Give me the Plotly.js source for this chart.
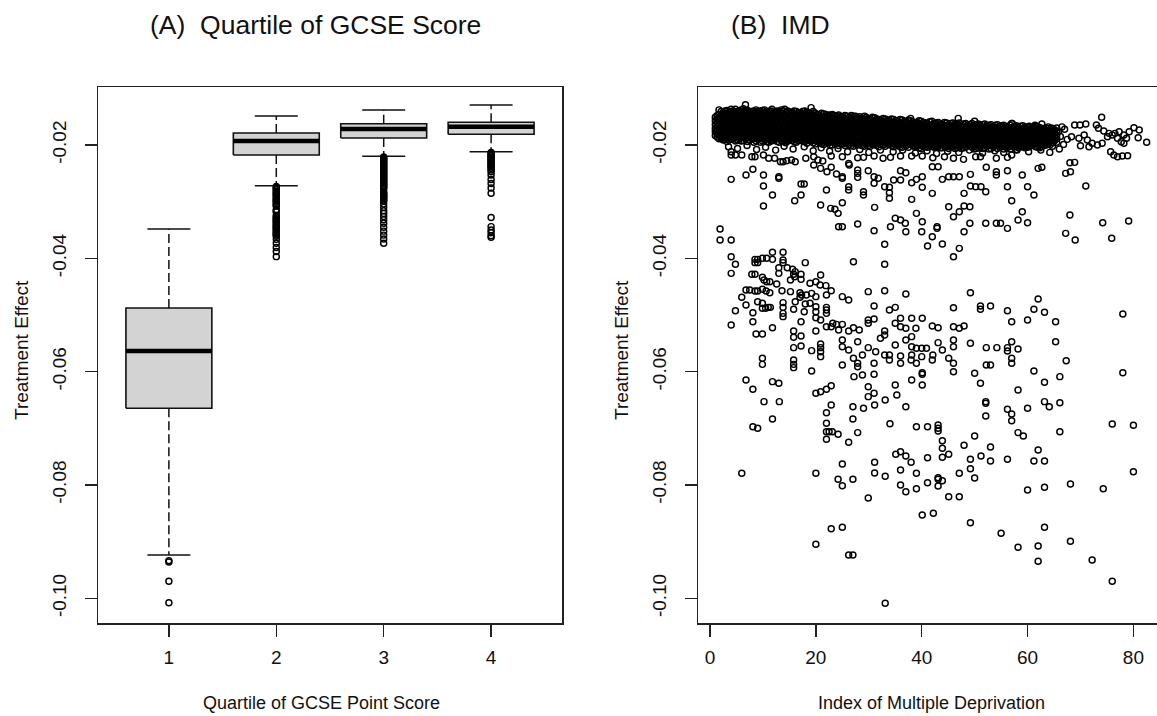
<!DOCTYPE html>
<html>
<head>
<meta charset="utf-8">
<script src="https://cdn.plot.ly/plotly-3.0.1.min.js"></script>
<style>
  html, body { margin: 0; padding: 0; background: #fff; overflow: hidden; }
  #chart { width: 1180px; height: 716px; }
</style>
</head>
<body>
<div id="chart"></div>
<script>
// ---- Panel A: treatment effect by quartile of GCSE point score ----
const quartiles = [1, 2, 3, 4];
const quartileLabels = ['1', '2', '3', '4'];
const lowerWhisker = [-0.09235, -0.02718, -0.02199, -0.02118];
const lowerQuartile = [-0.06647, -0.02176, -0.01876, -0.01811];
const medianEffect = [-0.05635, -0.01929, -0.01718, -0.01677];
const upperQuartile = [-0.04877, -0.01788, -0.01624, -0.01599];
const upperWhisker = [-0.03482, -0.01488, -0.01382, -0.01294];

const outliersQ1 = [-0.09335, -0.0936, -0.0970, -0.1008];
const outliersQ2 = [-0.0273, -0.0275, -0.0277, -0.0279, -0.0282, -0.0284, -0.0286, -0.0288,
  -0.0290, -0.0293, -0.0295, -0.0297, -0.0299, -0.0301, -0.0304, -0.0306, -0.03075,
  -0.0314, -0.0316, -0.0318, -0.03245, -0.0327, -0.0329, -0.0331, -0.0333, -0.0335,
  -0.0337, -0.0340, -0.0342, -0.0344, -0.0346, -0.0348, -0.0350, -0.0353, -0.0355,
  -0.0357, -0.0359, -0.0361, -0.03665, -0.03735, -0.0381, -0.0388, -0.0397];
const outliersQ3 = [-0.0221, -0.0223, -0.0225, -0.0227, -0.0229, -0.0231, -0.0233, -0.0235,
  -0.0237, -0.0239, -0.0241, -0.0243, -0.0245, -0.0247, -0.0249, -0.0251, -0.0253,
  -0.0255, -0.0257, -0.0259, -0.0261, -0.0263, -0.0265, -0.0267, -0.0269, -0.0271,
  -0.0273, -0.0275, -0.0277, -0.0283, -0.0285, -0.0287, -0.0289, -0.0291, -0.0293,
  -0.0295, -0.0297, -0.0299, -0.0304, -0.0310, -0.0316, -0.0321, -0.0326, -0.0332,
  -0.0338, -0.0345, -0.0352, -0.0359, -0.0366, -0.03735];
const outliersQ4 = [-0.0213, -0.0215, -0.0217, -0.0219, -0.0221, -0.0223, -0.0225, -0.0227,
  -0.0229, -0.0231, -0.0233, -0.0235, -0.0237, -0.0239, -0.0241, -0.0244, -0.0247,
  -0.0253, -0.0261, -0.0268, -0.0276, -0.0285, -0.0328, -0.0344, -0.0350, -0.0355,
  -0.0360, -0.0363];

// ---- Panel B: treatment effect against Index of Multiple Deprivation ----
// Areas sharing (almost) the same IMD score: [imd, [effects...]]
const effectsAtImd = [
  [1.0, [-0.0151, -0.0157, -0.0164, -0.0171, -0.0176, -0.0183]],
  [1.35, [-0.0148, -0.0154, -0.0161, -0.0167, -0.0174, -0.0180, -0.0186]],
  [1.7, [-0.0138, -0.0146, -0.0153, -0.0158, -0.0165, -0.0171, -0.0177, -0.0182, -0.0189]],
  [2.1, [-0.0141, -0.0147, -0.0152, -0.0159, -0.0164, -0.0170, -0.0176, -0.0183, -0.0188]],
  [2.5, [-0.0142, -0.0148, -0.0155, -0.0160, -0.0166, -0.0173, -0.0178, -0.0185, -0.0191]],
  [2.85, [-0.0140, -0.0146, -0.0153, -0.0159, -0.0165, -0.0171, -0.0177, -0.0184, -0.0190]],
  [3.2, [-0.0139, -0.0145, -0.0150, -0.0158, -0.0163, -0.0169, -0.0176, -0.0181, -0.0188, -0.0194]],
  [3.6, [-0.0142, -0.0148, -0.0154, -0.0161, -0.0166, -0.0172, -0.0179, -0.0185, -0.0191]],
  [3.8, [-0.0147]],
  [4.0, [-0.0137, -0.0141, -0.0148, -0.0154, -0.0159, -0.0166, -0.0171, -0.0178, -0.0183, -0.0190]],
  [4.4, [-0.0140, -0.0146, -0.0152, -0.0158, -0.0165, -0.0171, -0.0176, -0.0183, -0.0189]],
  [4.8, [-0.0137, -0.0143, -0.0150, -0.0156, -0.0162, -0.0168, -0.0174, -0.0180, -0.0186, -0.0193]],
  [5.15, [-0.0141, -0.0147, -0.0153, -0.0160, -0.0166, -0.0172, -0.0178, -0.0184, -0.0191]],
  [5.5, [-0.0140, -0.0146, -0.0151, -0.0157, -0.0164, -0.0170, -0.0176, -0.0182, -0.0189]],
  [5.9, [-0.0138, -0.0144, -0.0150, -0.0156, -0.0162, -0.0168, -0.0175, -0.0181, -0.0187, -0.0193]],
  [6.3, [-0.0136, -0.0142, -0.0148, -0.0155, -0.0161, -0.0166, -0.0173, -0.0179, -0.0185, -0.0192]],
  [6.7, [-0.0129, -0.0139, -0.0145, -0.0152, -0.0158, -0.0164, -0.0170, -0.0176, -0.0182, -0.0189]],
  [7.1, [-0.0139, -0.0145, -0.0150, -0.0157, -0.0163, -0.0169, -0.0174, -0.0181, -0.0187, -0.0194]],
  [7.5, [-0.0142, -0.0148, -0.0154, -0.0160, -0.0167, -0.0173, -0.0179, -0.0185, -0.0191]],
  [7.9, [-0.0141, -0.0147, -0.0153, -0.0158, -0.0165, -0.0171, -0.0177, -0.0183, -0.0189]],
  [8.3, [-0.0140, -0.0146, -0.0152, -0.0158, -0.0164, -0.0170, -0.0176, -0.0183, -0.0189, -0.0195]],
  [8.7, [-0.0138, -0.0144, -0.0151, -0.0156, -0.0162, -0.0168, -0.0175, -0.0180, -0.0186, -0.0193]],
  [9.1, [-0.0141, -0.0148, -0.0154, -0.0160, -0.0166, -0.0172, -0.0178, -0.0184, -0.0190]],
  [9.5, [-0.0140, -0.0146, -0.0152, -0.0159, -0.0164, -0.0170, -0.0176, -0.0182, -0.0188, -0.0195]],
  [9.9, [-0.0139, -0.0145, -0.0151, -0.0157, -0.0163, -0.0169, -0.0175, -0.0182, -0.0188, -0.0193]],
  [10.3, [-0.0138, -0.0143, -0.0149, -0.0155, -0.0161, -0.0167, -0.0173, -0.0179, -0.0185, -0.0191]],
  [10.7, [-0.0141, -0.0146, -0.0152, -0.0158, -0.0164, -0.0171, -0.0177, -0.0183, -0.0189, -0.0194]],
  [11.1, [-0.0141, -0.0147, -0.0153, -0.0159, -0.0165, -0.0170, -0.0177, -0.0183, -0.0189, -0.0195]],
  [11.5, [-0.0140, -0.0145, -0.0151, -0.0157, -0.0163, -0.0169, -0.0175, -0.0181, -0.0187, -0.0193]],
  [11.7, [-0.0137]],
  [11.9, [-0.0144, -0.0150, -0.0156, -0.0162, -0.0168, -0.0174, -0.0180, -0.0187, -0.0192]],
  [12.3, [-0.0142, -0.0148, -0.0154, -0.0160, -0.0166, -0.0172, -0.0178, -0.0184, -0.0190]],
  [12.7, [-0.0140, -0.0145, -0.0152, -0.0158, -0.0163, -0.0170, -0.0176, -0.0181, -0.0188, -0.0194]],
  [13.1, [-0.0141, -0.0147, -0.0153, -0.0159, -0.0165, -0.0171, -0.0177, -0.0183, -0.0189, -0.0195]],
  [13.5, [-0.0138, -0.0144, -0.0150, -0.0156, -0.0162, -0.0168, -0.0175, -0.0181, -0.0186, -0.0192]],
  [13.9, [-0.0140, -0.0146, -0.0152, -0.0158, -0.0164, -0.0170, -0.0176, -0.0182, -0.0188, -0.0194]],
  [14.1, [-0.0137]],
  [14.3, [-0.0143, -0.0149, -0.0155, -0.0161, -0.0167, -0.0173, -0.0179, -0.0185, -0.0191, -0.0196]],
  [14.7, [-0.0140, -0.0146, -0.0152, -0.0158, -0.0164, -0.0170, -0.0176, -0.0182, -0.0188, -0.0193]],
  [15.1, [-0.0142, -0.0148, -0.0154, -0.0160, -0.0166, -0.0172, -0.0178, -0.0184, -0.0190]],
  [15.5, [-0.0143, -0.0149, -0.0155, -0.0161, -0.0167, -0.0173, -0.0179, -0.0186, -0.0192]],
  [15.9, [-0.0140, -0.0145, -0.0151, -0.0157, -0.0163, -0.0169, -0.0175, -0.0181, -0.0187, -0.0194]],
  [16.3, [-0.0141, -0.0147, -0.0153, -0.0158, -0.0164, -0.0170, -0.0176, -0.0182, -0.0188, -0.0195]],
  [16.7, [-0.0143, -0.0149, -0.0155, -0.0161, -0.0167, -0.0173, -0.0179, -0.0185, -0.0192]],
  [17.1, [-0.0144, -0.0149, -0.0155, -0.0161, -0.0167, -0.0173, -0.0179, -0.0185, -0.0191]],
  [17.5, [-0.0141, -0.0146, -0.0152, -0.0158, -0.0164, -0.0170, -0.0176, -0.0182, -0.0188, -0.0193]],
  [17.9, [-0.0140, -0.0145, -0.0151, -0.0157, -0.0163, -0.0169, -0.0175, -0.0181, -0.0187, -0.0194]],
  [18.3, [-0.0142, -0.0148, -0.0154, -0.0160, -0.0166, -0.0172, -0.0178, -0.0184, -0.0190, -0.0197]],
  [18.7, [-0.0144, -0.0150, -0.0156, -0.0162, -0.0168, -0.0174, -0.0180, -0.0186, -0.0192]],
  [19.1, [-0.0134, -0.0145, -0.0151, -0.0157, -0.0163, -0.0169, -0.0175, -0.0181, -0.0187, -0.0193]],
  [19.5, [-0.0141, -0.0147, -0.0153, -0.0159, -0.0165, -0.0171, -0.0178, -0.0184, -0.0190, -0.0196]],
  [19.9, [-0.0144, -0.0150, -0.0155, -0.0162, -0.0167, -0.0173, -0.0180, -0.0185, -0.0192, -0.0198]],
  [20.3, [-0.0146, -0.0152, -0.0158, -0.0164, -0.0170, -0.0176, -0.0182, -0.0188, -0.0194]],
  [20.7, [-0.0147, -0.0153, -0.0159, -0.0165, -0.0171, -0.0177, -0.0183, -0.0189, -0.0195]],
  [21.1, [-0.0144, -0.0150, -0.0156, -0.0162, -0.0168, -0.0174, -0.0180, -0.0186, -0.0192, -0.0198]],
  [21.5, [-0.0145, -0.0151, -0.0156, -0.0163, -0.0168, -0.0175, -0.0180, -0.0187, -0.0193, -0.0199]],
  [21.9, [-0.0146, -0.0152, -0.0158, -0.0164, -0.0170, -0.0176, -0.0182, -0.0188, -0.0194]],
  [22.3, [-0.0148, -0.0154, -0.0160, -0.0166, -0.0172, -0.0178, -0.0184, -0.0190, -0.0196]],
  [22.7, [-0.0147, -0.0153, -0.0159, -0.0165, -0.0171, -0.0177, -0.0183, -0.0189, -0.0195, -0.0200]],
  [23.1, [-0.0146, -0.0152, -0.0158, -0.0164, -0.0170, -0.0176, -0.0182, -0.0188, -0.0194, -0.0200]],
  [23.5, [-0.0148, -0.0154, -0.0160, -0.0166, -0.0172, -0.0178, -0.0184, -0.0190, -0.0196]],
  [23.9, [-0.0149, -0.0155, -0.0161, -0.0167, -0.0173, -0.0179, -0.0185, -0.0191, -0.0197]],
  [24.3, [-0.0147, -0.0153, -0.0159, -0.0165, -0.0171, -0.0177, -0.0183, -0.0189, -0.0195, -0.0201]],
  [24.7, [-0.0150, -0.0156, -0.0162, -0.0168, -0.0174, -0.0180, -0.0186, -0.0192, -0.0198]],
  [25.1, [-0.0150, -0.0156, -0.0162, -0.0168, -0.0174, -0.0180, -0.0186, -0.0192, -0.0198]],
  [25.5, [-0.0148, -0.0153, -0.0159, -0.0165, -0.0171, -0.0177, -0.0183, -0.0189, -0.0195, -0.0201]],
  [25.9, [-0.0149, -0.0155, -0.0161, -0.0167, -0.0173, -0.0179, -0.0185, -0.0191, -0.0197]],
  [26.3, [-0.0151, -0.0157, -0.0163, -0.0169, -0.0175, -0.0181, -0.0187, -0.0193, -0.0199]],
  [26.7, [-0.0148, -0.0154, -0.0160, -0.0166, -0.0172, -0.0178, -0.0184, -0.0190, -0.0196, -0.0201]],
  [27.1, [-0.0149, -0.0154, -0.0160, -0.0166, -0.0172, -0.0178, -0.0184, -0.0190, -0.0196, -0.0202]],
  [27.5, [-0.0149, -0.0155, -0.0161, -0.0167, -0.0173, -0.0179, -0.0185, -0.0191, -0.0197]],
  [27.9, [-0.0152, -0.0158, -0.0164, -0.0170, -0.0176, -0.0182, -0.0188, -0.0194, -0.0200]],
  [28.3, [-0.0150, -0.0156, -0.0162, -0.0168, -0.0174, -0.0180, -0.0186, -0.0192, -0.0198]],
  [28.7, [-0.0153, -0.0159, -0.0165, -0.0171, -0.0177, -0.0183, -0.0189, -0.0195, -0.0201]],
  [29.1, [-0.0154, -0.0160, -0.0166, -0.0172, -0.0178, -0.0184, -0.0190, -0.0196, -0.0202]],
  [29.5, [-0.0151, -0.0156, -0.0162, -0.0168, -0.0174, -0.0180, -0.0186, -0.0192, -0.0198]],
  [29.9, [-0.0153, -0.0159, -0.0165, -0.0171, -0.0177, -0.0183, -0.0189, -0.0195, -0.0201]],
  [30.3, [-0.0154, -0.0160, -0.0166, -0.0172, -0.0178, -0.0184, -0.0190, -0.0196, -0.0202]],
  [30.7, [-0.0151, -0.0157, -0.0163, -0.0169, -0.0175, -0.0181, -0.0187, -0.0193, -0.0199]],
  [31.1, [-0.0152, -0.0157, -0.0163, -0.0169, -0.0175, -0.0181, -0.0187, -0.0193, -0.0199]],
  [31.5, [-0.0154, -0.0160, -0.0166, -0.0172, -0.0178, -0.0184, -0.0190, -0.0196, -0.0201]],
  [31.9, [-0.0155, -0.0161, -0.0167, -0.0173, -0.0179, -0.0185, -0.0191, -0.0197, -0.0203]],
  [32.3, [-0.0156, -0.0162, -0.0168, -0.0174, -0.0180, -0.0186, -0.0192, -0.0198]],
  [32.7, [-0.0153, -0.0159, -0.0165, -0.0170, -0.0176, -0.0182, -0.0188, -0.0194, -0.0200]],
  [33.1, [-0.0154, -0.0160, -0.0166, -0.0172, -0.0178, -0.0184, -0.0190, -0.0196, -0.0202]],
  [33.5, [-0.0156, -0.0162, -0.0168, -0.0174, -0.0180, -0.0186, -0.0192, -0.0198]],
  [33.9, [-0.0157, -0.0163, -0.0169, -0.0175, -0.0181, -0.0187, -0.0193, -0.0199]],
  [34.3, [-0.0154, -0.0160, -0.0166, -0.0172, -0.0178, -0.0183, -0.0189, -0.0195, -0.0201]],
  [34.7, [-0.0155, -0.0161, -0.0167, -0.0173, -0.0179, -0.0185, -0.0191, -0.0197, -0.0203]],
  [35.1, [-0.0157, -0.0163, -0.0169, -0.0175, -0.0181, -0.0187, -0.0193, -0.0199]],
  [35.5, [-0.0158, -0.0164, -0.0170, -0.0176, -0.0182, -0.0188, -0.0194, -0.0200]],
  [35.9, [-0.0155, -0.0161, -0.0167, -0.0173, -0.0179, -0.0185, -0.0191, -0.0197, -0.0203]],
  [36.3, [-0.0156, -0.0162, -0.0168, -0.0174, -0.0180, -0.0186, -0.0192, -0.0198, -0.0204]],
  [36.7, [-0.0158, -0.0164, -0.0170, -0.0176, -0.0182, -0.0188, -0.0194, -0.0200]],
  [37.1, [-0.0159, -0.0165, -0.0171, -0.0177, -0.0183, -0.0189, -0.0195, -0.0201]],
  [37.5, [-0.0156, -0.0162, -0.0168, -0.0174, -0.0180, -0.0186, -0.0192, -0.0198, -0.0204]],
  [37.9, [-0.0153, -0.0157, -0.0163, -0.0169, -0.0175, -0.0181, -0.0187, -0.0193, -0.0199]],
  [38.3, [-0.0159, -0.0165, -0.0171, -0.0177, -0.0183, -0.0189, -0.0195, -0.0201]],
  [38.7, [-0.0161, -0.0167, -0.0173, -0.0179, -0.0185, -0.0191, -0.0197, -0.0203]],
  [39.1, [-0.0160, -0.0166, -0.0172, -0.0178, -0.0184, -0.0190, -0.0196, -0.0202]],
  [39.5, [-0.0157, -0.0163, -0.0169, -0.0175, -0.0181, -0.0187, -0.0193, -0.0199, -0.0205]],
  [39.9, [-0.0158, -0.0164, -0.0170, -0.0176, -0.0182, -0.0188, -0.0194, -0.0200, -0.0206]],
  [40.3, [-0.0160, -0.0166, -0.0172, -0.0178, -0.0184, -0.0190, -0.0196, -0.0202]],
  [40.7, [-0.0161, -0.0167, -0.0173, -0.0179, -0.0185, -0.0191, -0.0197, -0.0203]],
  [41.1, [-0.0162, -0.0168, -0.0174, -0.0180, -0.0186, -0.0192, -0.0198, -0.0204]],
  [41.5, [-0.0159, -0.0165, -0.0171, -0.0177, -0.0183, -0.0189, -0.0195, -0.0201]],
  [41.9, [-0.0158, -0.0166, -0.0172, -0.0178, -0.0184, -0.0190, -0.0196, -0.0202]],
  [42.3, [-0.0162, -0.0168, -0.0174, -0.0180, -0.0186, -0.0192, -0.0198, -0.0204]],
  [42.7, [-0.0161, -0.0167, -0.0173, -0.0179, -0.0185, -0.0191, -0.0197, -0.0203]],
  [43.1, [-0.0160, -0.0166, -0.0172, -0.0178, -0.0184, -0.0190, -0.0196, -0.0202]],
  [43.5, [-0.0163, -0.0169, -0.0175, -0.0181, -0.0187, -0.0193, -0.0199, -0.0205]],
  [43.9, [-0.0163, -0.0169, -0.0175, -0.0181, -0.0187, -0.0193, -0.0199, -0.0205]],
  [44.3, [-0.0160, -0.0166, -0.0172, -0.0178, -0.0184, -0.0190, -0.0196, -0.0202]],
  [44.7, [-0.0161, -0.0167, -0.0173, -0.0179, -0.0185, -0.0191, -0.0197, -0.0203]],
  [45.1, [-0.0164, -0.0170, -0.0176, -0.0182, -0.0188, -0.0194, -0.0200, -0.0206]],
  [45.5, [-0.0162, -0.0168, -0.0174, -0.0180, -0.0186, -0.0192, -0.0198, -0.0204]],
  [45.9, [-0.0161, -0.0167, -0.0173, -0.0179, -0.0185, -0.0191, -0.0197, -0.0203]],
  [46.3, [-0.0164, -0.0170, -0.0176, -0.0182, -0.0188, -0.0194, -0.0200, -0.0206]],
  [46.7, [-0.0163, -0.0169, -0.0175, -0.0181, -0.0187, -0.0193, -0.0199, -0.0205]],
  [47.1, [-0.0161, -0.0167, -0.0173, -0.0179, -0.0185, -0.0191, -0.0197, -0.0203]],
  [47.5, [-0.0164, -0.0170, -0.0176, -0.0182, -0.0188, -0.0194, -0.0200, -0.0206]],
  [47.9, [-0.0163, -0.0169, -0.0175, -0.0181, -0.0187, -0.0193, -0.0199, -0.0205]],
  [48.3, [-0.0162, -0.0168, -0.0174, -0.0180, -0.0186, -0.0192, -0.0198, -0.0204]],
  [48.7, [-0.0165, -0.0171, -0.0177, -0.0183, -0.0189, -0.0195, -0.0201]],
  [49.1, [-0.0164, -0.0170, -0.0176, -0.0182, -0.0188, -0.0194, -0.0200]],
  [49.5, [-0.0162, -0.0168, -0.0174, -0.0180, -0.0186, -0.0192, -0.0198, -0.0204]],
  [49.9, [-0.0165, -0.0171, -0.0177, -0.0183, -0.0189, -0.0195, -0.0201, -0.0207]],
  [50.3, [-0.0164, -0.0170, -0.0176, -0.0182, -0.0188, -0.0194, -0.0200, -0.0206]],
  [50.7, [-0.0163, -0.0169, -0.0175, -0.0181, -0.0187, -0.0193, -0.0199, -0.0205]],
  [51.1, [-0.0166, -0.0172, -0.0178, -0.0184, -0.0190, -0.0196, -0.0202]],
  [51.5, [-0.0164, -0.0170, -0.0176, -0.0182, -0.0188, -0.0194, -0.0200, -0.0206]],
  [51.9, [-0.0163, -0.0169, -0.0175, -0.0181, -0.0187, -0.0193, -0.0199, -0.0205]],
  [52.3, [-0.0166, -0.0172, -0.0178, -0.0184, -0.0190, -0.0196, -0.0202]],
  [52.7, [-0.0165, -0.0171, -0.0177, -0.0183, -0.0189, -0.0195, -0.0201, -0.0207]],
  [53.1, [-0.0164, -0.0170, -0.0176, -0.0182, -0.0188, -0.0194, -0.0200, -0.0206]],
  [53.5, [-0.0167, -0.0173, -0.0179, -0.0185, -0.0191, -0.0197, -0.0203]],
  [53.9, [-0.0165, -0.0171, -0.0177, -0.0183, -0.0189, -0.0195, -0.0201]],
  [54.3, [-0.0164, -0.0170, -0.0176, -0.0182, -0.0188, -0.0194, -0.0200, -0.0206]],
  [54.7, [-0.0167, -0.0173, -0.0179, -0.0185, -0.0191, -0.0197, -0.0203]],
  [55.1, [-0.0166, -0.0172, -0.0178, -0.0184, -0.0190, -0.0196, -0.0202]],
  [55.5, [-0.0165, -0.0171, -0.0177, -0.0183, -0.0189, -0.0195, -0.0201, -0.0207]],
  [55.9, [-0.0168, -0.0174, -0.0180, -0.0186, -0.0192, -0.0198, -0.0204]],
  [56.3, [-0.0168, -0.0174, -0.0180, -0.0186, -0.0192, -0.0198, -0.0204]],
  [56.7, [-0.0165, -0.0171, -0.0177, -0.0183, -0.0189, -0.0195, -0.0201, -0.0207]],
  [57.1, [-0.0162, -0.0172, -0.0178, -0.0184, -0.0190, -0.0196, -0.0202]],
  [57.5, [-0.0167, -0.0173, -0.0179, -0.0185, -0.0191, -0.0197, -0.0203]],
  [57.9, [-0.0166, -0.0172, -0.0178, -0.0184, -0.0190, -0.0196, -0.0202, -0.0208]],
  [58.3, [-0.0169, -0.0175, -0.0181, -0.0187, -0.0193, -0.0199, -0.0205]],
  [58.7, [-0.0167, -0.0173, -0.0179, -0.0185, -0.0191, -0.0197, -0.0203]],
  [59.1, [-0.0166, -0.0172, -0.0178, -0.0184, -0.0190, -0.0196, -0.0202]],
  [59.5, [-0.0169, -0.0175, -0.0181, -0.0187, -0.0193, -0.0199, -0.0205]],
  [59.9, [-0.0168, -0.0174, -0.0180, -0.0186, -0.0192, -0.0198, -0.0204]],
  [60.3, [-0.0167, -0.0173, -0.0179, -0.0185, -0.0191, -0.0197, -0.0203]],
  [60.7, [-0.0170, -0.0176, -0.0182, -0.0188, -0.0194, -0.0200]],
  [61.1, [-0.0169, -0.0175, -0.0181, -0.0187, -0.0193, -0.0199]],
  [61.4, [-0.0165]],
  [61.5, [-0.0167, -0.0173, -0.0179, -0.0185, -0.0191, -0.0197, -0.0203]],
  [61.9, [-0.0168, -0.0174, -0.0180, -0.0186, -0.0192, -0.0198, -0.0204]],
  [62.3, [-0.0169, -0.0175, -0.0181, -0.0187, -0.0193, -0.0199, -0.0205]],
  [62.7, [-0.0163, -0.0172, -0.0178, -0.0184, -0.0190, -0.0196, -0.0202]],
  [63.1, [-0.0171, -0.0177, -0.0183, -0.0189, -0.0195, -0.0201]],
  [63.5, [-0.0170, -0.0176, -0.0182, -0.0188, -0.0194, -0.0200]],
  [63.9, [-0.0168, -0.0174, -0.0180, -0.0186, -0.0192, -0.0198]],
  [64.3, [-0.0175, -0.0181, -0.0187, -0.0193, -0.0199]],
  [64.7, [-0.0172, -0.0178, -0.0184, -0.0190, -0.0196, -0.0202]],
  [65.1, [-0.0173, -0.0179, -0.0186, -0.0192]],
  [65.5, [-0.0170, -0.0176, -0.0183, -0.0189, -0.0195]]
];

// Individual areas: [imd, effect]
const imdPoints = [
  // edges of the main cluster
  [29.2, -0.0149], [46.9, -0.0153], [50.0, -0.0158], [57.0, -0.0162],
  [3.5, -0.0203], [5.2, -0.0206], [7.0, -0.0201], [8.8, -0.0208], [10.5, -0.0204],
  [12.4, -0.0209], [14.0, -0.0202], [15.7, -0.0207], [17.8, -0.0203], [19.5, -0.0210],
  [21.0, -0.0205], [22.6, -0.0211], [24.2, -0.0206], [26.0, -0.0212], [28.3, -0.0208],
  [30.0, -0.0213], [32.2, -0.0209], [34.6, -0.0212], [36.4, -0.0209], [38.8, -0.0214],
  [41.0, -0.0210], [42.8, -0.0215], [44.9, -0.0211], [47.0, -0.0213], [49.0, -0.0209],
  [51.5, -0.0214], [53.8, -0.0210], [55.5, -0.0213], [58.0, -0.0209], [60.2, -0.0212],
  [62.5, -0.0209], [64.2, -0.0213], [66.0, -0.0207],
  [4.0, -0.02118], [4.0, -0.02176], [4.8, -0.02176], [6.0, -0.02176], [7.9, -0.02206],
  [8.5, -0.02206], [10.1, -0.02176], [11.1, -0.02235], [12.2, -0.02235], [13.3, -0.02294],
  [13.8, -0.02294], [14.5, -0.02276], [15.4, -0.02265], [16.1, -0.02294], [19.6, -0.02206],
  [20.4, -0.02265], [21.3, -0.02282], [22.9, -0.02194], [25.0, -0.02206], [26.2, -0.02324],
  [26.3, -0.02353], [27.9, -0.02224], [29.0, -0.02218], [31.0, -0.02194], [32.7, -0.02235],
  [34.1, -0.02218], [36.0, -0.02194], [38.1, -0.02194], [40.1, -0.02194], [42.1, -0.02224],
  [44.3, -0.02206], [46.0, -0.02235], [47.9, -0.02253], [50.2, -0.02206], [51.1, -0.02206],
  [54.1, -0.02235], [56.2, -0.02218], [57.0, -0.02176],
  [64.5, -0.0170], [65.8, -0.0176], [66.2, -0.0185], [65.0, -0.0193], [66.8, -0.0199],
  [67.5, -0.0190], [66.5, -0.0168],
  // high-IMD tail of the upper group
  [67.0, -0.01723], [68.9, -0.01647], [69.9, -0.01647], [71.0, -0.01629], [68.3, -0.01854],
  [69.7, -0.01882], [70.7, -0.01824], [71.3, -0.01912], [72.2, -0.01970], [73.2, -0.02000],
  [74.1, -0.01970], [70.0, -0.02012], [71.6, -0.02029], [73.0, -0.01647], [74.0, -0.01510],
  [73.4, -0.01705], [74.4, -0.01753], [75.4, -0.01794], [76.5, -0.01794], [77.3, -0.01765],
  [78.2, -0.01824], [79.2, -0.01765], [80.1, -0.01695], [81.1, -0.01735], [80.9, -0.01871],
  [78.7, -0.01882], [77.7, -0.01941], [78.2, -0.01970], [77.0, -0.01882], [76.0, -0.01824],
  [75.1, -0.01854], [82.5, -0.01952], [75.7, -0.02118], [76.3, -0.02176], [77.9, -0.02194],
  [78.9, -0.02188], [77.0, -0.02206], [68.9, -0.02306], [68.1, -0.02471], [62.7, -0.02394],
  // between the two groups
  [4.0, -0.02606], [6.8, -0.02529], [8.1, -0.02429], [10.1, -0.02529], [10.1, -0.02724],
  [11.8, -0.02882], [10.1, -0.03076], [13.0, -0.02559], [13.0, -0.02588], [16.0, -0.02982],
  [17.2, -0.02882], [17.2, -0.02688], [17.8, -0.02688], [20.9, -0.03059], [22.0, -0.02794],
  [22.8, -0.03118], [23.6, -0.03135], [24.2, -0.03206], [25.0, -0.03018], [24.3, -0.03441],
  [25.0, -0.03441], [27.9, -0.03394], [31.1, -0.03100], [31.0, -0.03512], [33.0, -0.03753],
  [18.1, -0.02235], [19.6, -0.02353], [20.9, -0.02412], [22.1, -0.02471], [22.9, -0.02394],
  [23.9, -0.02512], [25.0, -0.02588], [25.0, -0.02559], [26.2, -0.02794], [26.2, -0.02735],
  [27.9, -0.02441], [27.9, -0.02500], [27.9, -0.02571], [29.0, -0.02882], [29.0, -0.02824],
  [29.9, -0.02453], [31.0, -0.02559], [31.0, -0.02676], [31.8, -0.02588], [33.0, -0.02735],
  [33.9, -0.02841], [33.9, -0.02941], [33.9, -0.02747], [34.7, -0.02618], [36.0, -0.02453],
  [36.0, -0.02618], [37.0, -0.02488], [38.1, -0.02959], [38.1, -0.02665], [39.0, -0.02606],
  [40.1, -0.02747], [40.1, -0.02559], [42.0, -0.02853], [42.0, -0.02382], [43.1, -0.02382],
  [43.9, -0.02606], [45.1, -0.02559], [46.0, -0.02559], [47.1, -0.02559], [48.0, -0.02853],
  [49.2, -0.02518], [49.2, -0.02724], [50.2, -0.02735], [51.2, -0.02735], [52.1, -0.02824],
  [52.2, -0.02394], [54.1, -0.02471], [54.1, -0.02529], [56.2, -0.02453], [57.0, -0.02982],
  [56.2, -0.02735], [59.0, -0.02529], [60.0, -0.02735], [61.2, -0.02882], [62.0, -0.02412],
  [34.1, -0.03441], [35.0, -0.03294], [36.0, -0.03324], [36.9, -0.03382], [37.0, -0.03529],
  [39.0, -0.03206], [40.1, -0.03353], [40.0, -0.03529], [41.1, -0.03782], [42.0, -0.03618],
  [42.9, -0.03441], [42.9, -0.03471], [43.9, -0.03747], [45.1, -0.03088], [46.0, -0.03971],
  [47.1, -0.03824], [46.0, -0.03265], [47.1, -0.03176], [48.0, -0.03076], [49.1, -0.03088],
  [48.0, -0.03529], [49.1, -0.03382], [52.1, -0.03382], [54.1, -0.03382], [54.9, -0.03382],
  [56.2, -0.03471], [58.2, -0.03324], [59.0, -0.03176], [60.0, -0.03371],
  [1.9, -0.03482], [1.9, -0.03676], [4.0, -0.03676],
  [68.0, -0.02312], [67.2, -0.02500], [71.0, -0.02724], [68.0, -0.03235], [67.2, -0.03559],
  [69.0, -0.03676], [74.2, -0.03371], [75.9, -0.03647], [79.1, -0.03341],
  // lower group
  [4.0, -0.03971], [4.8, -0.04106], [4.0, -0.04265], [8.5, -0.04018], [9.0, -0.04018],
  [9.9, -0.04000], [10.7, -0.04000], [11.8, -0.03894], [13.8, -0.03894], [11.8, -0.04018],
  [13.8, -0.04076], [8.5, -0.04076], [9.0, -0.04076], [7.9, -0.04282], [8.5, -0.04282],
  [9.9, -0.04335], [10.2, -0.04382], [10.7, -0.04412], [11.3, -0.04412], [13.0, -0.04165],
  [13.0, -0.04265], [13.8, -0.04029], [14.6, -0.04165], [15.6, -0.04194], [16.1, -0.04235],
  [15.8, -0.04282], [17.2, -0.04282], [18.0, -0.04076], [15.2, -0.04382], [16.0, -0.04324],
  [17.2, -0.04371], [18.9, -0.04441], [20.0, -0.04412], [20.9, -0.04294], [20.8, -0.04471],
  [21.9, -0.04482], [22.9, -0.04571], [22.0, -0.04647], [19.2, -0.04618], [18.2, -0.04647],
  [20.0, -0.04676], [6.8, -0.04559], [7.5, -0.04559], [8.5, -0.04576], [9.0, -0.04576],
  [9.9, -0.04547], [10.6, -0.04576], [11.3, -0.04606], [9.0, -0.04765], [9.9, -0.04794],
  [6.0, -0.04688], [6.8, -0.04824], [9.9, -0.04882], [10.5, -0.04882], [11.0, -0.04865],
  [11.4, -0.04865], [12.6, -0.04453], [13.6, -0.04571], [15.2, -0.04588], [17.0, -0.04606],
  [17.3, -0.04647], [17.0, -0.04688], [16.1, -0.04765], [18.0, -0.04806], [13.8, -0.04782],
  [13.8, -0.04865], [13.8, -0.04971], [13.8, -0.05029], [15.8, -0.04900], [17.8, -0.04941],
  [18.9, -0.04794], [20.0, -0.04853], [20.0, -0.04941], [22.0, -0.04865], [22.0, -0.04912],
  [22.0, -0.04971], [20.0, -0.05047], [20.9, -0.05088], [4.8, -0.04924], [8.1, -0.04959],
  [8.1, -0.05118], [4.0, -0.05176], [11.8, -0.05224], [8.7, -0.05335], [9.9, -0.05335],
  [17.2, -0.05118], [15.8, -0.05282], [15.8, -0.05394], [17.2, -0.05371], [20.0, -0.05282],
  [15.8, -0.05576], [17.2, -0.05547], [19.2, -0.05629], [20.9, -0.05512], [20.9, -0.05576],
  [20.9, -0.05647], [20.9, -0.05735], [22.0, -0.05206], [22.9, -0.05206], [23.2, -0.05147],
  [23.9, -0.05165], [25.0, -0.05165], [24.3, -0.05265], [26.2, -0.05282], [27.1, -0.05224],
  [28.2, -0.05265], [25.0, -0.05441], [25.0, -0.05559], [26.2, -0.05618], [27.9, -0.05471],
  [28.8, -0.05706], [29.9, -0.05576], [31.3, -0.05647], [31.0, -0.05853], [27.9, -0.05853],
  [27.9, -0.05912], [27.1, -0.05765], [25.0, -0.05882], [9.9, -0.05765], [9.9, -0.05871],
  [15.8, -0.05794], [15.8, -0.05871], [15.8, -0.05929], [19.2, -0.05988], [6.8, -0.06147],
  [8.1, -0.06312], [11.8, -0.06176], [13.0, -0.06206], [20.0, -0.06382], [20.9, -0.06353],
  [22.0, -0.06312], [22.9, -0.06247], [25.0, -0.04676], [26.2, -0.04735], [27.1, -0.04059],
  [29.9, -0.04588], [31.0, -0.04841], [33.0, -0.04571], [33.0, -0.04106], [37.0, -0.04629],
  [29.9, -0.05088], [31.0, -0.05071], [29.9, -0.05147], [33.0, -0.05282], [33.0, -0.05353],
  [32.2, -0.05412], [33.9, -0.04912], [35.0, -0.04865], [36.0, -0.05059], [35.0, -0.05147],
  [36.0, -0.05206], [37.0, -0.05235], [38.1, -0.05059], [40.1, -0.05059], [38.9, -0.05235],
  [35.0, -0.05529], [33.9, -0.05706], [36.0, -0.05724], [37.0, -0.05441], [38.1, -0.05382],
  [38.1, -0.05559], [39.0, -0.05588], [38.1, -0.05706], [40.0, -0.05588], [40.9, -0.05588],
  [42.1, -0.05706], [40.0, -0.05735], [42.0, -0.05794], [43.1, -0.05488], [43.9, -0.05618],
  [45.1, -0.05765], [46.0, -0.05853], [46.0, -0.06000], [33.0, -0.05706], [33.9, -0.05794],
  [36.0, -0.05853], [38.0, -0.05794], [39.0, -0.05853], [40.1, -0.06018], [40.1, -0.06047],
  [42.0, -0.05194], [43.1, -0.05224], [46.0, -0.04871], [46.0, -0.05206], [47.1, -0.05235],
  [48.0, -0.05194], [49.2, -0.04606], [46.0, -0.05441], [46.0, -0.05559], [49.2, -0.05500],
  [51.1, -0.04841], [51.1, -0.04900], [53.0, -0.04841], [56.2, -0.04924], [57.0, -0.05118],
  [60.0, -0.05088], [61.2, -0.04900], [62.0, -0.04718], [63.2, -0.04953], [65.3, -0.05118],
  [65.3, -0.05471], [52.2, -0.05576], [54.2, -0.05576], [56.2, -0.05576], [56.2, -0.05635],
  [57.0, -0.05471], [58.2, -0.05600], [57.0, -0.05765], [57.0, -0.05853], [52.2, -0.05882],
  [53.0, -0.05882], [50.0, -0.06029], [51.1, -0.06206], [58.2, -0.06324], [61.2, -0.05988],
  [63.2, -0.06188], [66.1, -0.06088], [67.3, -0.05806], [78.0, -0.04982], [78.0, -0.06018],
  [29.9, -0.06265], [31.0, -0.06382], [29.9, -0.06441], [27.2, -0.06088], [28.8, -0.06059],
  [31.0, -0.06047], [35.0, -0.06235], [35.3, -0.06412], [38.1, -0.06147], [40.1, -0.06235],
  [10.2, -0.06529], [13.1, -0.06529], [22.9, -0.06588], [27.0, -0.06618], [29.0, -0.06647],
  [31.1, -0.06588], [33.1, -0.06500], [37.0, -0.06618], [22.0, -0.06724], [22.0, -0.06912],
  [22.0, -0.07059], [22.5, -0.07059], [23.1, -0.07059], [22.0, -0.07194], [24.2, -0.07106],
  [27.0, -0.06835], [27.9, -0.07076], [26.2, -0.07247], [8.1, -0.06971], [9.0, -0.07000],
  [11.8, -0.06835], [34.0, -0.06918], [39.0, -0.06971], [41.1, -0.06971], [43.1, -0.06941],
  [43.1, -0.07000], [43.1, -0.07047], [43.9, -0.07218], [43.9, -0.07353], [43.9, -0.07512],
  [45.1, -0.07459], [41.1, -0.07518], [35.1, -0.07459], [36.0, -0.07412], [37.0, -0.07488],
  [38.0, -0.07600], [36.0, -0.07735], [39.0, -0.07794], [36.0, -0.08000], [37.0, -0.08118],
  [39.0, -0.08065], [33.1, -0.07847], [31.1, -0.07600], [31.1, -0.07788], [25.0, -0.07629],
  [24.2, -0.07900], [25.0, -0.08012], [27.0, -0.07900], [20.0, -0.07794], [29.9, -0.08229],
  [6.0, -0.07794], [41.1, -0.07959], [43.1, -0.07871], [43.1, -0.07900], [43.9, -0.07924],
  [43.1, -0.08018], [45.1, -0.08206], [47.1, -0.08206], [47.1, -0.07794], [48.0, -0.07300],
  [49.2, -0.07547], [49.2, -0.07712], [50.0, -0.07876], [50.0, -0.07135], [51.2, -0.07488],
  [52.1, -0.06782], [52.1, -0.06529], [52.1, -0.06559], [53.0, -0.07329], [53.0, -0.07576],
  [56.2, -0.06665], [57.0, -0.06747], [57.0, -0.06865], [56.2, -0.07547], [58.2, -0.07076],
  [59.2, -0.07135], [60.0, -0.06647], [62.0, -0.07382], [61.2, -0.07576], [63.2, -0.07576],
  [63.2, -0.06529], [64.1, -0.06618], [66.1, -0.06547], [66.1, -0.07059], [60.0, -0.08088],
  [63.2, -0.08041], [68.1, -0.07982], [76.0, -0.06924], [80.0, -0.06947], [80.0, -0.07765],
  [74.3, -0.08065], [40.1, -0.08529], [42.2, -0.08500], [49.2, -0.08665], [55.0, -0.08853],
  [63.2, -0.08747], [58.2, -0.09100], [62.0, -0.09076], [62.0, -0.09347], [68.1, -0.08994],
  [72.2, -0.09324], [76.0, -0.09700], [22.9, -0.08771], [25.0, -0.08747], [20.0, -0.09047],
  [26.2, -0.09235], [27.0, -0.09235], [33.1, -0.10088]
];

// Axis ticks
const effectTicks = [-0.10, -0.08, -0.06, -0.04, -0.02];
const effectTickLabels = ['-0.10', '-0.08', '-0.06', '-0.04', '-0.02'];
const imdTicks = [0, 20, 40, 60, 80];
const imdTickLabels = ['0', '20', '40', '60', '80'];

// ---------------------------------------------------------------
const FONT = '"Liberation Sans", Arial, Helvetica, sans-serif';
const W = 1180, H = 716;
const BOX_HALF = 0.4, CAP_HALF = 0.2;
const INK = '#000';

const circle = {
  symbol: 'circle-open', size: 6.0, color: INK,
  line: { color: INK, width: 1.45 }
};

const traces = [];

// Boxes, whiskers and medians for panel A
quartiles.forEach((q, i) => {
  traces.push({
    x: [q - BOX_HALF, q + BOX_HALF, q + BOX_HALF, q - BOX_HALF, q - BOX_HALF],
    y: [lowerQuartile[i], lowerQuartile[i], upperQuartile[i], upperQuartile[i], lowerQuartile[i]],
    mode: 'lines', fill: 'toself', fillcolor: '#d3d3d3',
    line: { color: '#111', width: 1.6 }, xaxis: 'x', yaxis: 'y', hoverinfo: 'skip'
  });
  traces.push({
    x: [q, q, null, q, q],
    y: [upperQuartile[i], upperWhisker[i], null, lowerQuartile[i], lowerWhisker[i]],
    mode: 'lines', line: { color: '#111', width: 1.5, dash: '9px,4px' },
    xaxis: 'x', yaxis: 'y', hoverinfo: 'skip'
  });
  traces.push({
    x: [q - CAP_HALF, q + CAP_HALF, null, q - CAP_HALF, q + CAP_HALF],
    y: [upperWhisker[i], upperWhisker[i], null, lowerWhisker[i], lowerWhisker[i]],
    mode: 'lines', line: { color: '#111', width: 1.6 },
    xaxis: 'x', yaxis: 'y', hoverinfo: 'skip'
  });
  traces.push({
    x: [q - BOX_HALF, q + BOX_HALF],
    y: [medianEffect[i], medianEffect[i]],
    mode: 'lines', line: { color: INK, width: 4.5 },
    xaxis: 'x', yaxis: 'y', hoverinfo: 'skip'
  });
});

// Outliers beyond the whiskers
[outliersQ1, outliersQ2, outliersQ3, outliersQ4].forEach((vals, i) => {
  traces.push({
    x: vals.map(() => quartiles[i]), y: vals,
    mode: 'markers', marker: circle, xaxis: 'x', yaxis: 'y', hoverinfo: 'skip'
  });
});

// Panel B scatter
const imdX = [], effectY = [];
effectsAtImd.forEach(([imd, effects]) => {
  effects.forEach(e => { imdX.push(imd); effectY.push(e); });
});
imdPoints.forEach(([imd, e]) => { imdX.push(imd); effectY.push(e); });
traces.push({
  x: imdX, y: effectY, mode: 'markers', marker: circle,
  xaxis: 'x2', yaxis: 'y2', hoverinfo: 'skip'
});

const axisStyle = {
  showline: true, mirror: true, linecolor: '#222', linewidth: 1.5,
  ticks: 'outside', ticklen: 12, tickwidth: 1.5, tickcolor: '#222',
  showgrid: false, zeroline: false, fixedrange: true,
  tickfont: { family: FONT, size: 19, color: '#111' },
  tickmode: 'array'
};
const yDomain = [1 - 623 / H, 1 - 87 / H];
const yRange = [-0.10436, -0.00976];

const annotation = (text, x, y, size, extra) => Object.assign({
  text, x: x / W, y: 1 - y / H, xref: 'paper', yref: 'paper',
  showarrow: false, font: { family: FONT, size, color: '#111' },
  xanchor: 'center', yanchor: 'middle'
}, extra || {});

const layout = {
  width: W, height: H, autosize: false,
  margin: { l: 0, r: 0, t: 0, b: 0 },
  paper_bgcolor: '#fff', plot_bgcolor: '#fff', showlegend: false,
  font: { family: FONT, size: 19, color: '#111' },
  xaxis: Object.assign({}, axisStyle, {
    domain: [98 / W, 562 / W], range: [0.34, 4.66], anchor: 'y',
    tickvals: quartiles, ticktext: quartileLabels, ticklabelstandoff: 5
  }),
  yaxis: Object.assign({}, axisStyle, {
    domain: yDomain, range: yRange, anchor: 'x',
    tickvals: effectTicks, ticktext: effectTickLabels, tickangle: -90,
    ticklabelstandoff: 11
  }),
  xaxis2: Object.assign({}, axisStyle, {
    domain: [698 / W, 1162 / W], range: [-2.27, 85.4], anchor: 'y2',
    tickvals: imdTicks, ticktext: imdTickLabels, ticklabelstandoff: 5
  }),
  yaxis2: Object.assign({}, axisStyle, {
    domain: yDomain, range: yRange, anchor: 'x2',
    tickvals: effectTicks, ticktext: effectTickLabels, tickangle: -90,
    ticklabelstandoff: 11
  }),
  annotations: [
    annotation('(A)\u00a0 Quartile of GCSE Score', 148, 25, 26.5, { xanchor: 'left' }),
    annotation('(B)\u00a0 IMD', 729, 25, 26.5, { xanchor: 'left' }),
    annotation('Treatment Effect', 21, 350, 19, { textangle: -90 }),
    annotation('Treatment Effect', 621, 350, 19, { textangle: -90 }),
    annotation('Quartile of GCSE Point Score', 321, 703, 18),
    annotation('Index of Multiple Deprivation', 931, 703, 18)
  ]
};

Plotly.newPlot('chart', traces, layout, { staticPlot: true, displayModeBar: false });
</script>
</body>
</html>
